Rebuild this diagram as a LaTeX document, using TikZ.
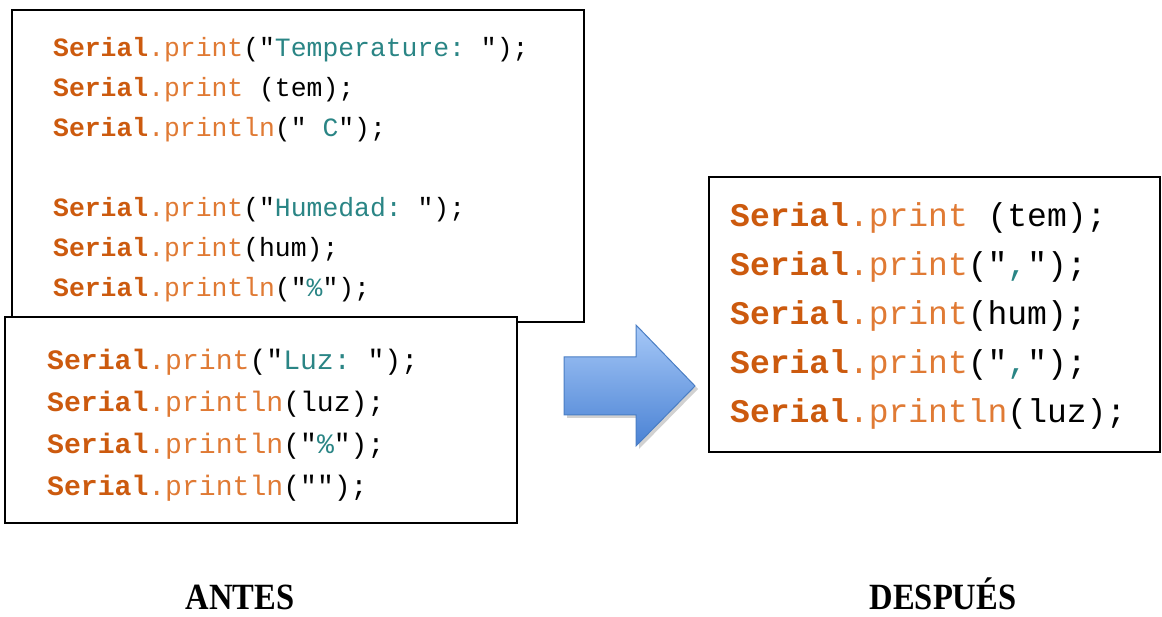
\documentclass[tikz,border=0pt]{standalone}
\usepackage{fontspec}
\setmainfont{Liberation Serif}
\setmonofont{Liberation Mono}
\usetikzlibrary{positioning}

\definecolor{serialcol}{HTML}{CC5A0E}
\definecolor{funccol}{HTML}{E07A34}
\definecolor{strcol}{HTML}{2A8585}
\definecolor{arrowtop}{HTML}{A6C8F7}
\definecolor{arrowbot}{HTML}{4A82D4}
\definecolor{arrowline}{HTML}{4A7EC4}

\newcommand{\ser}{\textbf{\color{serialcol}Serial}}
\newcommand{\fnc}[1]{{\color{funccol}.#1}}
\newcommand{\strg}[1]{"{\color{strcol}#1}"}

\begin{document}
\begin{tikzpicture}[
    x=1pt, y=-1pt,
    codebox/.style={rectangle, draw=black, line width=2pt, fill=white, inner sep=0pt},
    codetext/.style={anchor=base west, inner sep=0pt, align=left},
    caption/.style={font=\fontsize{37}{40}\selectfont\bfseries, xscale=0.88, anchor=base, inner sep=0pt}
]
\useasboundingbox (0,0) rectangle (1162,617);

% cajas de codigo (base = ultima linea)
\node[codebox, minimum width=572pt, minimum height=312pt] (antesA) at (298,166) {};
\node[codetext, font=\ttfamily\fontsize{26.4}{40}\selectfont] (textA) at (53,297) {%
\ser\fnc{print}(\strg{Temperature:\ });\\
\ser\fnc{print}\ (tem);\\
\ser\fnc{println}(\strg{\ C});\\[40pt]
\ser\fnc{print}(\strg{Humedad:\ });\\
\ser\fnc{print}(hum);\\
\ser\fnc{println}(\strg{\%});};

\node[codebox, minimum width=512pt, minimum height=206pt] (antesB) at (261,420) {};
\node[codetext, font=\ttfamily\fontsize{28.1}{41.7}\selectfont] (textB) at (47,495) {%
\ser\fnc{print}(\strg{Luz:\ });\\
\ser\fnc{println}(luz);\\
\ser\fnc{println}(\strg{\%});\\
\ser\fnc{println}(\strg{});};

\node[codebox, minimum width=451pt, minimum height=275pt] (despues) at (934.5,314.5) {};
\node[codetext, font=\ttfamily\fontsize{33}{49}\selectfont] (textC) at (730,423) {%
\ser\fnc{print}\ (tem);\\
\ser\fnc{print}(\strg{,});\\
\ser\fnc{print}(hum);\\
\ser\fnc{print}(\strg{,});\\
\ser\fnc{println}(luz);};

% flecha
\fill[black, opacity=0.18] (567,360) -- (639,360) -- (639,328) -- (698,389)
    -- (639,449) -- (639,418) -- (567,418) -- cycle;
\draw[arrowline, line width=1pt, top color=arrowtop, bottom color=arrowbot]
    (564,357) -- (636,357) -- (636,325) -- (695,386)
    -- (636,446) -- (636,415) -- (564,415) -- cycle;

% titulos
\node[caption] (antes) at (240,609) {ANTES};
\node[caption] (despuesT) at (943,609) {DESPUÉS};
\end{tikzpicture}
\end{document}
